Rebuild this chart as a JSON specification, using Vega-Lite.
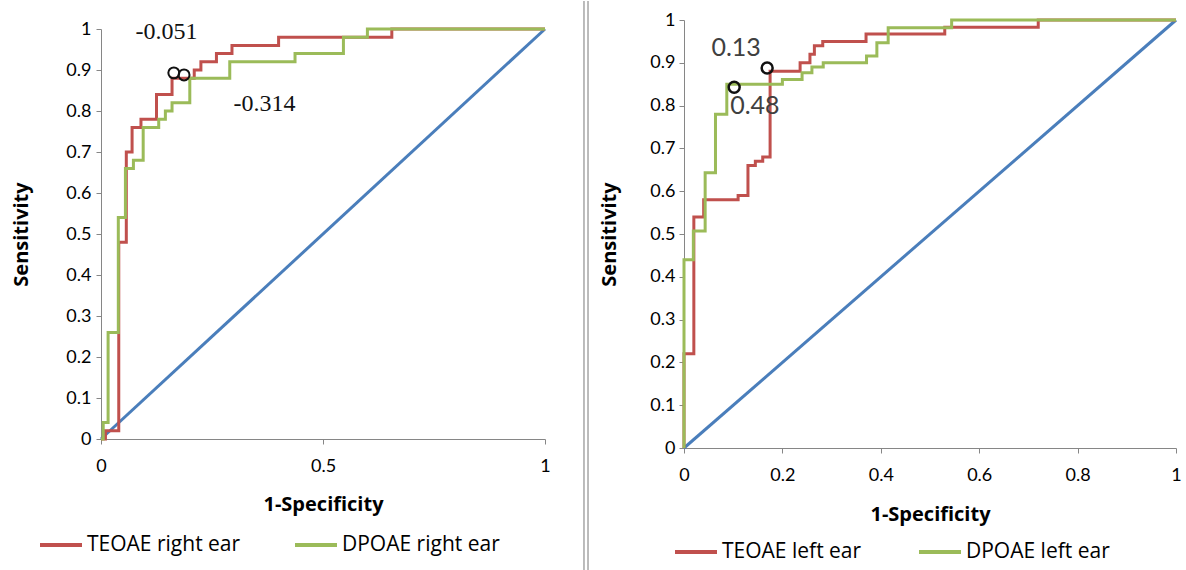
{
  "$schema": "https://vega.github.io/schema/vega-lite/v6.json",
  "padding": {"left": 11, "top": 0, "right": 5, "bottom": 0},
  "background": "white",
  "bounds": "flush",
  "center": true,
  "spacing": 139,
  "config": {
    "font": "Lato",
    "view": {"stroke": null},
    "axis": {"grid": false, "domainColor": "#868686", "tickColor": "#868686", "tickSize": 5, "labelFont": "Lato", "labelFontSize": 18, "labelColor": "#000000", "titleColor": "#000000", "titleFont": "Open Sans", "titleFontSize": 20, "titleFontWeight": "bold", "labelFlush": false, "labelOverlap": false},
    "legend": {"labelFont": "Open Sans", "labelFontSize": 21, "labelColor": "#000000", "symbolType": "stroke", "symbolStrokeWidth": 4, "symbolSize": 1764, "labelOffset": 3, "direction": "horizontal", "orient": "none"}
  },
  "datasets": {
    "L": [
      {"s": "TEOAE right ear", "o": 1, "x": 0, "y": 0},
      {"s": "TEOAE right ear", "o": 2, "x": 0.01, "y": 0},
      {"s": "TEOAE right ear", "o": 3, "x": 0.01, "y": 0.02},
      {"s": "TEOAE right ear", "o": 4, "x": 0.04, "y": 0.02},
      {"s": "TEOAE right ear", "o": 5, "x": 0.04, "y": 0.48},
      {"s": "TEOAE right ear", "o": 6, "x": 0.057, "y": 0.48},
      {"s": "TEOAE right ear", "o": 7, "x": 0.057, "y": 0.70},
      {"s": "TEOAE right ear", "o": 8, "x": 0.07, "y": 0.70},
      {"s": "TEOAE right ear", "o": 9, "x": 0.07, "y": 0.76},
      {"s": "TEOAE right ear", "o": 10, "x": 0.09, "y": 0.76},
      {"s": "TEOAE right ear", "o": 11, "x": 0.09, "y": 0.78},
      {"s": "TEOAE right ear", "o": 12, "x": 0.125, "y": 0.78},
      {"s": "TEOAE right ear", "o": 13, "x": 0.125, "y": 0.84},
      {"s": "TEOAE right ear", "o": 14, "x": 0.16, "y": 0.84},
      {"s": "TEOAE right ear", "o": 15, "x": 0.16, "y": 0.88},
      {"s": "TEOAE right ear", "o": 16, "x": 0.21, "y": 0.88},
      {"s": "TEOAE right ear", "o": 17, "x": 0.21, "y": 0.90},
      {"s": "TEOAE right ear", "o": 18, "x": 0.225, "y": 0.90},
      {"s": "TEOAE right ear", "o": 19, "x": 0.225, "y": 0.92},
      {"s": "TEOAE right ear", "o": 20, "x": 0.26, "y": 0.92},
      {"s": "TEOAE right ear", "o": 21, "x": 0.26, "y": 0.94},
      {"s": "TEOAE right ear", "o": 22, "x": 0.295, "y": 0.94},
      {"s": "TEOAE right ear", "o": 23, "x": 0.295, "y": 0.96},
      {"s": "TEOAE right ear", "o": 24, "x": 0.40, "y": 0.96},
      {"s": "TEOAE right ear", "o": 25, "x": 0.40, "y": 0.98},
      {"s": "TEOAE right ear", "o": 26, "x": 0.655, "y": 0.98},
      {"s": "TEOAE right ear", "o": 27, "x": 0.655, "y": 1},
      {"s": "TEOAE right ear", "o": 28, "x": 1, "y": 1},
      {"s": "DPOAE right ear", "o": 1, "x": 0, "y": 0},
      {"s": "DPOAE right ear", "o": 2, "x": 0.005, "y": 0},
      {"s": "DPOAE right ear", "o": 3, "x": 0.005, "y": 0.04},
      {"s": "DPOAE right ear", "o": 4, "x": 0.016, "y": 0.04},
      {"s": "DPOAE right ear", "o": 5, "x": 0.016, "y": 0.26},
      {"s": "DPOAE right ear", "o": 6, "x": 0.039, "y": 0.26},
      {"s": "DPOAE right ear", "o": 7, "x": 0.039, "y": 0.54},
      {"s": "DPOAE right ear", "o": 8, "x": 0.055, "y": 0.54},
      {"s": "DPOAE right ear", "o": 9, "x": 0.055, "y": 0.66},
      {"s": "DPOAE right ear", "o": 10, "x": 0.073, "y": 0.66},
      {"s": "DPOAE right ear", "o": 11, "x": 0.073, "y": 0.68},
      {"s": "DPOAE right ear", "o": 12, "x": 0.095, "y": 0.68},
      {"s": "DPOAE right ear", "o": 13, "x": 0.095, "y": 0.76},
      {"s": "DPOAE right ear", "o": 14, "x": 0.13, "y": 0.76},
      {"s": "DPOAE right ear", "o": 15, "x": 0.13, "y": 0.78},
      {"s": "DPOAE right ear", "o": 16, "x": 0.145, "y": 0.78},
      {"s": "DPOAE right ear", "o": 17, "x": 0.145, "y": 0.80},
      {"s": "DPOAE right ear", "o": 18, "x": 0.16, "y": 0.80},
      {"s": "DPOAE right ear", "o": 19, "x": 0.16, "y": 0.82},
      {"s": "DPOAE right ear", "o": 20, "x": 0.20, "y": 0.82},
      {"s": "DPOAE right ear", "o": 21, "x": 0.20, "y": 0.88},
      {"s": "DPOAE right ear", "o": 22, "x": 0.29, "y": 0.88},
      {"s": "DPOAE right ear", "o": 23, "x": 0.29, "y": 0.92},
      {"s": "DPOAE right ear", "o": 24, "x": 0.437, "y": 0.92},
      {"s": "DPOAE right ear", "o": 25, "x": 0.437, "y": 0.94},
      {"s": "DPOAE right ear", "o": 26, "x": 0.546, "y": 0.94},
      {"s": "DPOAE right ear", "o": 27, "x": 0.546, "y": 0.98},
      {"s": "DPOAE right ear", "o": 28, "x": 0.60, "y": 0.98},
      {"s": "DPOAE right ear", "o": 29, "x": 0.60, "y": 1},
      {"s": "DPOAE right ear", "o": 30, "x": 1, "y": 1}
    ],
    "R": [
      {"s": "TEOAE left ear", "o": 1, "x": 0, "y": 0},
      {"s": "TEOAE left ear", "o": 2, "x": 0, "y": 0.22},
      {"s": "TEOAE left ear", "o": 3, "x": 0.02, "y": 0.22},
      {"s": "TEOAE left ear", "o": 4, "x": 0.02, "y": 0.54},
      {"s": "TEOAE left ear", "o": 5, "x": 0.04, "y": 0.54},
      {"s": "TEOAE left ear", "o": 6, "x": 0.04, "y": 0.58},
      {"s": "TEOAE left ear", "o": 7, "x": 0.11, "y": 0.58},
      {"s": "TEOAE left ear", "o": 8, "x": 0.11, "y": 0.59},
      {"s": "TEOAE left ear", "o": 9, "x": 0.13, "y": 0.59},
      {"s": "TEOAE left ear", "o": 10, "x": 0.13, "y": 0.66},
      {"s": "TEOAE left ear", "o": 11, "x": 0.145, "y": 0.66},
      {"s": "TEOAE left ear", "o": 12, "x": 0.145, "y": 0.67},
      {"s": "TEOAE left ear", "o": 13, "x": 0.16, "y": 0.67},
      {"s": "TEOAE left ear", "o": 14, "x": 0.16, "y": 0.68},
      {"s": "TEOAE left ear", "o": 15, "x": 0.175, "y": 0.68},
      {"s": "TEOAE left ear", "o": 16, "x": 0.175, "y": 0.88},
      {"s": "TEOAE left ear", "o": 17, "x": 0.236, "y": 0.88},
      {"s": "TEOAE left ear", "o": 18, "x": 0.236, "y": 0.90},
      {"s": "TEOAE left ear", "o": 19, "x": 0.256, "y": 0.90},
      {"s": "TEOAE left ear", "o": 20, "x": 0.256, "y": 0.92},
      {"s": "TEOAE left ear", "o": 21, "x": 0.265, "y": 0.92},
      {"s": "TEOAE left ear", "o": 22, "x": 0.265, "y": 0.94},
      {"s": "TEOAE left ear", "o": 23, "x": 0.282, "y": 0.94},
      {"s": "TEOAE left ear", "o": 24, "x": 0.282, "y": 0.95},
      {"s": "TEOAE left ear", "o": 25, "x": 0.37, "y": 0.95},
      {"s": "TEOAE left ear", "o": 26, "x": 0.37, "y": 0.967},
      {"s": "TEOAE left ear", "o": 27, "x": 0.53, "y": 0.967},
      {"s": "TEOAE left ear", "o": 28, "x": 0.53, "y": 0.983},
      {"s": "TEOAE left ear", "o": 29, "x": 0.72, "y": 0.983},
      {"s": "TEOAE left ear", "o": 30, "x": 0.72, "y": 1},
      {"s": "TEOAE left ear", "o": 31, "x": 1, "y": 1},
      {"s": "DPOAE left ear", "o": 1, "x": 0, "y": 0},
      {"s": "DPOAE left ear", "o": 2, "x": 0, "y": 0.44},
      {"s": "DPOAE left ear", "o": 3, "x": 0.019, "y": 0.44},
      {"s": "DPOAE left ear", "o": 4, "x": 0.019, "y": 0.507},
      {"s": "DPOAE left ear", "o": 5, "x": 0.043, "y": 0.507},
      {"s": "DPOAE left ear", "o": 6, "x": 0.043, "y": 0.643},
      {"s": "DPOAE left ear", "o": 7, "x": 0.064, "y": 0.643},
      {"s": "DPOAE left ear", "o": 8, "x": 0.064, "y": 0.78},
      {"s": "DPOAE left ear", "o": 9, "x": 0.087, "y": 0.78},
      {"s": "DPOAE left ear", "o": 10, "x": 0.087, "y": 0.85},
      {"s": "DPOAE left ear", "o": 11, "x": 0.2, "y": 0.85},
      {"s": "DPOAE left ear", "o": 12, "x": 0.2, "y": 0.861},
      {"s": "DPOAE left ear", "o": 13, "x": 0.24, "y": 0.861},
      {"s": "DPOAE left ear", "o": 14, "x": 0.24, "y": 0.877},
      {"s": "DPOAE left ear", "o": 15, "x": 0.26, "y": 0.877},
      {"s": "DPOAE left ear", "o": 16, "x": 0.26, "y": 0.89},
      {"s": "DPOAE left ear", "o": 17, "x": 0.283, "y": 0.89},
      {"s": "DPOAE left ear", "o": 18, "x": 0.283, "y": 0.90},
      {"s": "DPOAE left ear", "o": 19, "x": 0.371, "y": 0.90},
      {"s": "DPOAE left ear", "o": 20, "x": 0.371, "y": 0.916},
      {"s": "DPOAE left ear", "o": 21, "x": 0.392, "y": 0.916},
      {"s": "DPOAE left ear", "o": 22, "x": 0.392, "y": 0.947},
      {"s": "DPOAE left ear", "o": 23, "x": 0.415, "y": 0.947},
      {"s": "DPOAE left ear", "o": 24, "x": 0.415, "y": 0.982},
      {"s": "DPOAE left ear", "o": 25, "x": 0.544, "y": 0.982},
      {"s": "DPOAE left ear", "o": 26, "x": 0.544, "y": 1},
      {"s": "DPOAE left ear", "o": 27, "x": 1, "y": 1}
    ]
  },
  "hconcat": [
    {
      "width": 444,
      "height": 410,
      "encoding": {
        "x": {"field": "x", "type": "quantitative", "scale": {"domain": [0, 1], "nice": false, "zero": false},
              "axis": {"title": "1-Specificity", "values": [0, 0.5, 1], "format": "~g", "labelPadding": 13, "titlePadding": 19}},
        "y": {"field": "y", "type": "quantitative", "scale": {"domain": [0, 1], "nice": false, "zero": false},
              "axis": {"title": "Sensitivity", "values": [0, 0.1, 0.2, 0.3, 0.4, 0.5, 0.6, 0.7, 0.8, 0.9, 1], "format": "~g", "labelPadding": 5, "titlePadding": 34}}
      },
      "layer": [
        {"data": {"values": [{"x": 0, "y": 0}, {"x": 1, "y": 1}]}, "mark": {"type": "line", "color": "#4A7EBB", "strokeWidth": 3}},
        {"data": {"name": "L"}, "transform": [{"filter": "datum.s === 'TEOAE right ear'"}], "mark": {"type": "line", "strokeWidth": 3},
         "encoding": {"order": {"field": "o", "type": "quantitative"},
                      "color": {"field": "s", "type": "nominal", "scale": {"domain": ["TEOAE right ear", "DPOAE right ear"], "range": ["#C0504D", "#9BBB59"]},
                                "legend": {"title": null, "legendX": -63, "legendY": 493, "columnPadding": 46}}}},
        {"data": {"name": "L"}, "transform": [{"filter": "datum.s === 'DPOAE right ear'"}], "mark": {"type": "line", "strokeWidth": 3},
         "encoding": {"order": {"field": "o", "type": "quantitative"},
                      "color": {"field": "s", "type": "nominal"}}},
        {"data": {"values": [{"x": 0.164, "y": 0.893}, {"x": 0.187, "y": 0.888}]}, "mark": {"type": "point", "shape": "circle", "filled": false, "stroke": "#111111", "strokeWidth": 2, "size": 120, "opacity": 1}},
        {"data": {"values": [{"x": 0.1475, "y": 0.993, "label": "-0.051"}, {"x": 0.368, "y": 0.817, "label": "-0.314"}]},
         "mark": {"type": "text", "font": "Liberation Serif", "fontSize": 24, "color": "#111111", "align": "center", "baseline": "middle"},
         "encoding": {"text": {"field": "label", "type": "nominal"}}}
      ]
    },
    {
      "width": 492,
      "height": 428,
      "encoding": {
        "x": {"field": "x", "type": "quantitative", "scale": {"domain": [0, 1], "nice": false, "zero": false},
              "axis": {"title": "1-Specificity", "values": [0, 0.2, 0.4, 0.6, 0.8, 1], "format": "~g", "labelPadding": 13, "titlePadding": 20}},
        "y": {"field": "y", "type": "quantitative", "scale": {"domain": [0, 1], "nice": false, "zero": false},
              "axis": {"title": "Sensitivity", "values": [0, 0.1, 0.2, 0.3, 0.4, 0.5, 0.6, 0.7, 0.8, 0.9, 1], "format": "~g", "labelPadding": 4, "titlePadding": 30}}
      },
      "layer": [
        {"data": {"values": [{"x": -0.2033, "y": -0.2874, "y2": 1.0444}, {"x": -0.1951, "y": -0.2874, "y2": 1.0444}]},
         "mark": {"type": "rule", "color": "#A6A6A6", "strokeWidth": 1.5},
         "encoding": {"y2": {"field": "y2"}}},
        {"data": {"values": [{"x": 0, "y": 0}, {"x": 1, "y": 1}]}, "mark": {"type": "line", "color": "#4A7EBB", "strokeWidth": 3}},
        {"data": {"name": "R"}, "transform": [{"filter": "datum.s === 'TEOAE left ear'"}], "mark": {"type": "line", "strokeWidth": 3},
         "encoding": {"order": {"field": "o", "type": "quantitative"},
                      "color": {"field": "s", "type": "nominal", "scale": {"domain": ["TEOAE left ear", "DPOAE left ear"], "range": ["#C0504D", "#9BBB59"]},
                                "legend": {"title": null, "legendX": -11, "legendY": 509, "columnPadding": 49}}}},
        {"data": {"name": "R"}, "transform": [{"filter": "datum.s === 'DPOAE left ear'"}], "mark": {"type": "line", "strokeWidth": 3},
         "encoding": {"order": {"field": "o", "type": "quantitative"},
                      "color": {"field": "s", "type": "nominal"}}},
        {"data": {"values": [{"x": 0.169, "y": 0.888}, {"x": 0.102, "y": 0.843}]}, "mark": {"type": "point", "shape": "circle", "filled": false, "stroke": "#111111", "strokeWidth": 2.5, "size": 120, "opacity": 1}},
        {"data": {"values": [{"x": 0.106, "y": 0.935, "label": "0.13"}, {"x": 0.144, "y": 0.799, "label": "0.48"}]},
         "mark": {"type": "text", "font": "Lato", "fontSize": 25, "color": "#404040", "align": "center", "baseline": "middle"},
         "encoding": {"text": {"field": "label", "type": "nominal"}}}
      ]
    }
  ],
  "resolve": {"scale": {"color": "independent", "x": "independent", "y": "independent"}, "legend": {"color": "independent"}}
}
